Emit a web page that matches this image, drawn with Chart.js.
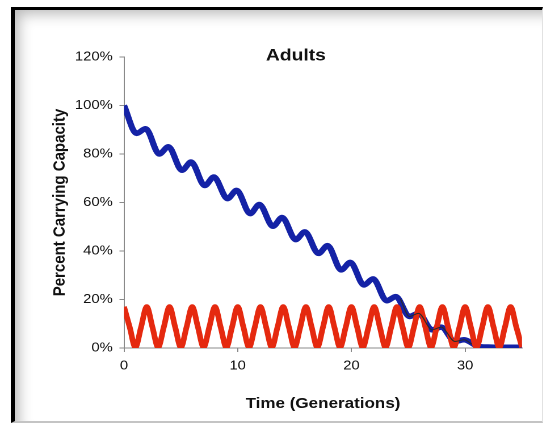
<!DOCTYPE html>
<html>
<head>
<meta charset="utf-8">
<script src="https://cdn.jsdelivr.net/npm/chart.js@4"></script>
<style>
  html, body { margin: 0; padding: 0; background: #fff; overflow: hidden; }
  #frame {
    position: absolute; left: 11px; top: 7px; width: 527px; height: 411px;
    border-top: 3px solid #000; border-left: 4px solid #000;
    border-right: 1px solid #e2e2e2; border-bottom: 2px solid #c4c4c4;
    box-shadow: inset 9px 9px 14px -5px rgba(0,0,0,0.28);
  }
  /* original picture is stretched horizontally, so stretch the chart too */
  #wrap { position: absolute; left: 0; top: 0; width: 479.3px; height: 423px; transform: scaleX(1.135); transform-origin: 0 0; }
</style>
</head>
<body>
<div id="frame"></div>
<div id="wrap"><canvas id="Chart"></canvas></div>
<script>
console.log("adults_chart");

// tick labels
const xTicks = [0, 10, 20, 30];
const yTicks = [0, 20, 40, 60, 80, 100, 120];

// adults (blue)
const blueGen = [0, 1.1, 1.9, 3.1, 3.9, 5.1, 5.9, 7.1, 7.9, 9.1, 9.9, 11.1, 11.9, 13.1, 13.9, 15.1, 15.9,
                 17.1, 17.9, 19.1, 19.9, 21.1, 21.9, 23.1, 23.9, 25.1, 25.9, 27.1, 27.9, 29.1, 29.9, 31.2, 32, 33, 35];
const blueVal = [100, 88.5, 90.4, 80, 83, 73.3, 76.7, 67, 70.5, 61.6, 65, 55.4, 59.2, 50.2, 53.8, 44.7, 47.9,
                 39, 42.2, 32.2, 35.3, 26, 28.5, 19.5, 21.2, 13, 14.3, 7.5, 8.6, 2.7, 3.4, 0.6, 0.4, 0.3, 0.3];

// oscillating series (red)
const redGen = [0, 0.5, 1, 1.5, 2, 2.5, 3, 3.5, 4, 4.5, 5, 5.5, 6, 6.5, 7, 7.5, 8, 8.5, 9, 9.5,
                10, 10.5, 11, 11.5, 12, 12.5, 13, 13.5, 14, 14.5, 15, 15.5, 16, 16.5, 17, 17.5, 18, 18.5, 19, 19.5,
                20, 20.5, 21, 21.5, 22, 22.5, 23, 23.5, 24, 24.5, 25, 25.5, 26, 26.5, 27, 27.5, 28, 28.5, 29, 29.5,
                30, 30.5, 31, 31.5, 32, 32.5, 33, 33.5, 34, 34.5, 35];
const redVal = [17, 8.6, 0.3, 8.6, 17, 8.6, 0.3, 8.6, 17, 8.6, 0.3, 8.6, 17, 8.6, 0.3, 8.6, 17, 8.6, 0.3, 8.6,
                17, 8.6, 0.3, 8.6, 17, 8.6, 0.3, 8.6, 17, 8.6, 0.3, 8.6, 17, 8.6, 0.3, 8.6, 17, 8.6, 0.3, 8.6,
                17, 8.6, 0.3, 8.6, 17, 8.6, 0.3, 8.6, 17, 8.6, 0.3, 8.6, 17, 8.6, 0.3, 8.6, 17, 8.6, 0.3, 8.6,
                17, 8.6, 0.3, 8.6, 17, 8.6, 0.3, 8.6, 17, 8.6, 0.3];

// thin dark trace visible on top of the blue where it crosses the red
const darkGen = [24.3, 25.1, 25.9, 27.1, 27.9, 29.1, 29.9, 30.6];
const darkVal = [20.3, 13, 14.3, 7.5, 8.6, 2.7, 3.4, 1.6];

const pts = (xs, ys) => xs.map((x, i) => ({x: x, y: ys[i]}));
const tickColor = "#8a8a8a";
const textColor = "#111";
Chart.defaults.font.family = "'Liberation Sans', Arial, sans-serif";

const ctx = document.getElementById("Chart");
const chart = new Chart(ctx, {
    type: "line",
    data: {
        datasets: [{
            label: "dark",
            data: pts(darkGen, darkVal),
            borderColor: "#2a2a2a",
            borderWidth: 1,
            },
            {
            label: "red",
            data: pts(redGen, redVal),
            borderColor: "#e5290f",
            borderWidth: 5,
            },
            {
            label: "Adults",
            data: pts(blueGen, blueVal),
            borderColor: "#1422a6",
            borderWidth: 5.5,
            }],
        },
    options: {
        animation: false,
        responsive: true,
        maintainAspectRatio: false,
        devicePixelRatio: 2,
        elements: {
            point: { radius: 0 },
            line: { cubicInterpolationMode: "monotone", fill: false },
        },
        layout: { padding: { left: 44, right: 2, top: 0, bottom: 10 } },
        plugins: {
            legend: { display: false },
            tooltip: { enabled: false },
            title: {
                display: true,
                text: "Adults",
                color: textColor,
                font: { size: 17, weight: "bold" },
                padding: { top: 45.8, bottom: -9.2 },
            },
        },
        scales: {
            x: {
                type: "linear",
                min: 0,
                max: 35,
                afterBuildTicks: (axis) => { axis.ticks = xTicks.map(v => ({value: v})) },
                afterFit: (axis) => { axis.height = 65 },
                grid: { drawOnChartArea: false, tickLength: 4, color: tickColor },
                border: { color: tickColor },
                ticks: { color: textColor, font: { size: 13 }, padding: 6, maxRotation: 0 },
                title: { display: true, text: "Time (Generations)", color: textColor,
                         font: { size: 15, weight: "bold" }, padding: 0 },
                },
            y: {
                type: "linear",
                position: "left",
                min: 0,
                max: 120,
                afterBuildTicks: (axis) => { axis.ticks = yTicks.map(v => ({value: v})) },
                afterFit: (axis) => { axis.width = 65.25 },
                grid: { drawOnChartArea: false, tickLength: 4, color: tickColor },
                border: { color: tickColor },
                ticks: { color: textColor, font: { size: 13 }, padding: 6, callback: (v) => v + "%" },
                title: { display: true, text: "Percent Carrying Capacity", color: textColor,
                         font: { size: 15, weight: "bold" }, padding: 0 },
                },
            // empty right box, only there to keep the title where the original has it
            y2: {
                axis: "y",
                type: "linear",
                position: "right",
                min: 0,
                max: 1,
                grid: { display: false },
                border: { display: false },
                ticks: { display: false },
                afterFit: (axis) => { axis.width = 17.4 },
                }
            }
        }
});
</script>
</body>
</html>
